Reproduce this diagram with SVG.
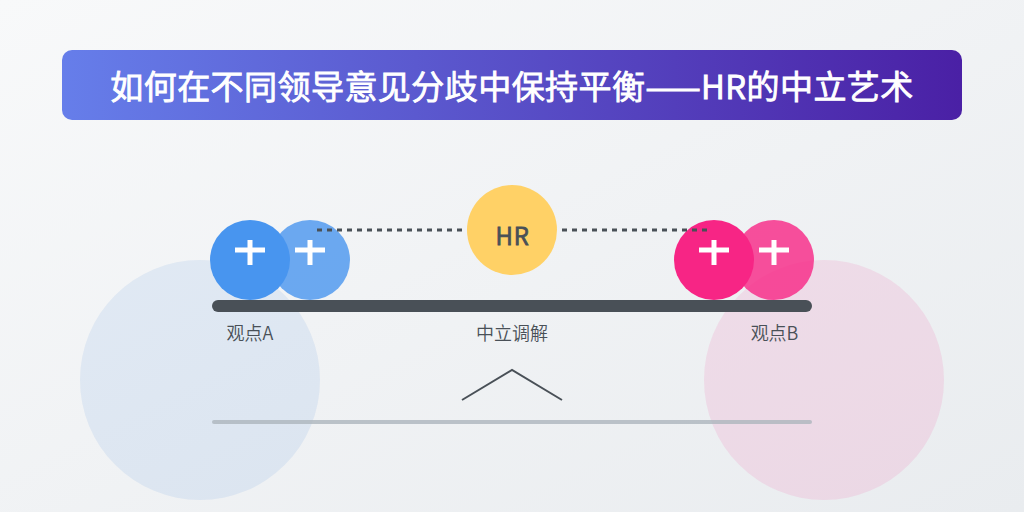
<svg xmlns="http://www.w3.org/2000/svg" width="1024" height="512" viewBox="0 0 1024 512">
<style>
.lbl{font-family:"Noto Sans CJK SC",sans-serif;font-size:18px;font-weight:350;fill:#495057;text-anchor:middle}
.plus{stroke:#fff;stroke-width:5;fill:none}
</style>
<defs>
<linearGradient id="bg" x1="0" y1="0" x2="1" y2="1"><stop offset="0" stop-color="#f8f9fa"/><stop offset="1" stop-color="#e9ecef"/></linearGradient>
<linearGradient id="ban" x1="0" y1="0" x2="1" y2="0"><stop offset="0" stop-color="#667eea"/><stop offset="1" stop-color="#4a20a5"/></linearGradient>
</defs>
<rect width="1024" height="512" fill="url(#bg)"/>
<circle cx="200" cy="380" r="120" fill="#3a7bd5" opacity=".1"/>
<circle cx="824" cy="380" r="120" fill="#f72585" opacity=".1"/>
<g id="title"><rect x="62" y="50" width="900" height="70" rx="10" fill="url(#ban)"/>
<text x="512" y="99" text-anchor="middle" font-family="'Noto Sans CJK SC',sans-serif" font-size="33" font-weight="350" letter-spacing=".45" stroke="#fff" stroke-width="1" fill="#fff">如何在不同领导意见分歧中保持平衡——HR的中立艺术</text></g>
<g id="beam"><rect x="212" y="300" width="600" height="12" rx="6" fill="#495057"/></g>
<g id="a2"><circle cx="310" cy="260" r="40" fill="#4895ef" opacity=".8"/><path class="plus" d="M295 250H325M310 240V265"/></g>
<g id="a1"><circle cx="250" cy="260" r="40" fill="#4895ef"/><path class="plus" d="M235 250H265M250 240V265"/></g>
<g id="b2"><circle cx="774" cy="260" r="40" fill="#f72585" opacity=".8"/><path class="plus" d="M759 250H789M774 240V265"/></g>
<g id="b1"><circle cx="714" cy="260" r="40" fill="#f72585"/><path class="plus" d="M699 250H729M714 240V265"/></g>
<g id="hr"><circle cx="512" cy="230" r="45" fill="#ffd166"/><text x="512.5" y="245" text-anchor="middle" font-family="'Noto Sans CJK SC',sans-serif" font-size="24" font-weight="350" letter-spacing=".7" stroke="#495057" stroke-width=".9" fill="#495057">HR</text></g>
<g id="connectors" fill="none" stroke="#495057"><path d="M317 230H462M562 230H707" stroke-width="3" stroke-dasharray="5,5"/></g>
<g id="labels"><text class="lbl" x="250" y="340">观点A</text><text class="lbl" x="512" y="340">中立调解</text><text class="lbl" x="774.5" y="340">观点B</text></g>
<g id="base"><path d="M462 400L512 370L562 400" fill="none" stroke="#495057" stroke-width="2"/><rect x="212" y="420" width="600" height="4" rx="2" fill="#adb5bd" opacity=".8"/></g>
</svg>
